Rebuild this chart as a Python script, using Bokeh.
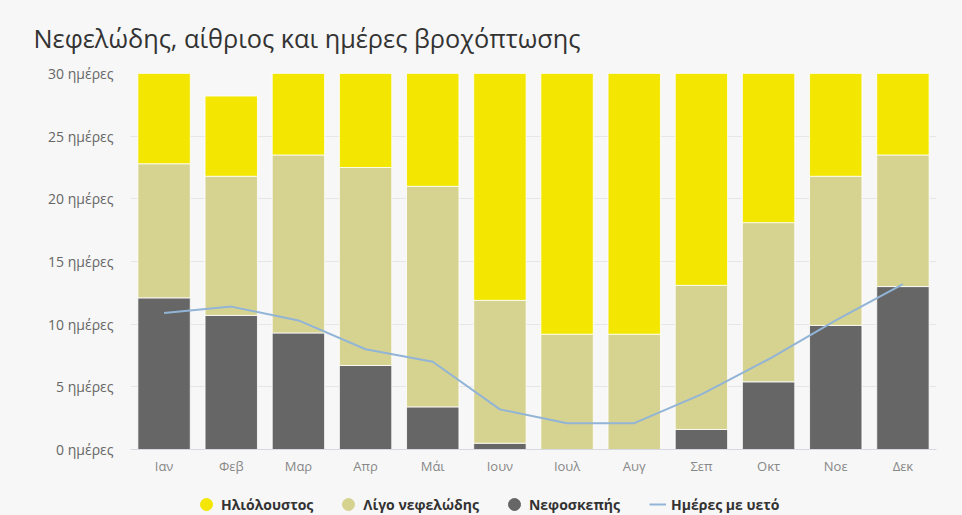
from bokeh.plotting import figure
from bokeh.layouts import column
from bokeh.models import (ColumnDataSource, FactorRange, Range1d, FixedTicker,
                          Legend, LegendItem)
from bokeh.embed import file_html
from bokeh.resources import INLINE

months = ["Ιαν", "Φεβ", "Μαρ", "Απρ", "Μάι", "Ιουν", "Ιουλ", "Αυγ", "Σεπ", "Οκτ", "Νοε", "Δεκ"]
overcast = [12.1, 10.7, 9.3, 6.7, 3.4, 0.5, 0.0, 0.0, 1.6, 5.4, 9.9, 13.0]
partly = [10.7, 11.1, 14.2, 15.8, 17.6, 11.4, 9.2, 9.2, 11.5, 12.7, 11.9, 10.5]
sunny = [8.2, 6.4, 7.5, 7.5, 9.9, 18.1, 21.8, 21.8, 16.9, 12.9, 8.2, 7.5]
rain_days = [10.9, 11.4, 10.3, 8.0, 7.0, 3.2, 2.1, 2.1, 4.4, 7.2, 10.3, 13.2]

y_ticks = [0, 5, 10, 15, 20, 25, 30]
y_tick_labels = ["0 ημέρες", "5 ημέρες", "10 ημέρες", "15 ημέρες", "20 ημέρες", "25 ημέρες", "30 ημέρες"]

series_names = ["Ηλιόλουστος", "Λίγο νεφελώδης", "Νεφοσκεπής", "Ημέρες με υετό"]
title_text = "Νεφελώδης, αίθριος και ημέρες βροχόπτωσης"

C_SUN = "#f3e600"
C_PART = "#d6d28f"
C_OVER = "#666666"
C_RAIN = "#92b4d6"
BG = "#f7f7f7"
FONT = "Open Sans"

source = ColumnDataSource(dict(month=months, overcast=overcast, partly=partly,
                               sunny=sunny, rain=rain_days))

p = figure(x_range=FactorRange(*months, range_padding=0), y_range=Range1d(0, 30),
           width=962, height=482, output_backend="svg", toolbar_location=None,
           min_border_left=130, min_border_right=26, min_border_top=73,
           min_border_bottom=33, background_fill_color=BG, border_fill_color=BG,
           outline_line_color=None)

p.vbar_stack(["overcast", "partly", "sunny"], x="month", width=0.78, source=source,
             color=[C_OVER, C_PART, C_SUN], line_color="white", line_width=0.8)
p.line(x="month", y="rain", source=source, line_color=C_RAIN, line_width=2)

# title
p.title.text = title_text
p.title.text_font = FONT
p.title.text_font_size = "25.3px"
p.title.text_font_style = "normal"
p.title.text_color = "#333333"
p.title.align = "left"
p.title.offset = -97
p.title.standoff = 37

# axes
p.yaxis.ticker = FixedTicker(ticks=y_ticks)
p.yaxis.major_label_overrides = {t: l for t, l in zip(y_ticks, y_tick_labels)}
p.yaxis.axis_line_color = None
p.yaxis.major_tick_line_color = None
p.yaxis.minor_tick_line_color = None
p.yaxis.major_tick_out = 0
p.yaxis.major_tick_in = 0
p.yaxis.major_label_text_font = FONT
p.yaxis.major_label_text_font_size = "14px"
p.yaxis.major_label_text_color = "#666666"
p.yaxis.major_label_standoff = 17

p.xaxis.axis_line_color = "#d8d8e0"
p.xaxis.major_tick_line_color = None
p.xaxis.minor_tick_line_color = None
p.xaxis.major_tick_out = 0
p.xaxis.major_tick_in = 0
p.xaxis.major_label_text_font = FONT
p.xaxis.major_label_text_font_size = "13px"
p.xaxis.major_label_text_color = "#888888"
p.xaxis.major_label_standoff = 7

p.xgrid.grid_line_color = None
p.ygrid.grid_line_color = "#e6e6e6"

# legend strip (legend proxies use the real data, kept out of this strip's view)
lg = figure(width=962, height=33, output_backend="svg", toolbar_location=None,
            x_range=FactorRange(*months, range_padding=0), y_range=Range1d(-2, -1),
            min_border=0, background_fill_color=BG, border_fill_color=BG,
            outline_line_color=None)
lg.axis.visible = False
lg.grid.visible = False
r_sun = lg.scatter(x="month", y="sunny", source=source, marker="circle", size=12, color=C_SUN)
r_part = lg.scatter(x="month", y="partly", source=source, marker="circle", size=12, color=C_PART)
r_over = lg.scatter(x="month", y="rain", source=source, marker="circle", size=12, color=C_OVER)
r_rain = lg.line(x="month", y="rain", source=source, line_color=C_RAIN, line_width=2)

common = dict(orientation="horizontal", background_fill_alpha=0, border_line_color=None,
              label_text_font=FONT, label_text_font_size="14px",
              label_text_font_style="bold", label_text_color="#333333",
              padding=0, margin=0)
legend1 = Legend(items=[LegendItem(label=series_names[0], renderers=[r_sun]),
                        LegendItem(label=series_names[1], renderers=[r_part]),
                        LegendItem(label=series_names[2], renderers=[r_over])],
                 location=(61, -4), glyph_width=30, glyph_height=30,
                 label_standoff=0, spacing=20, **common)
legend2 = Legend(items=[LegendItem(label=series_names[3], renderers=[r_rain])],
                 location=(519, 1), glyph_width=17, glyph_height=20,
                 label_standoff=5, **common)
lg.add_layout(legend1, "center")
lg.add_layout(legend2, "center")

open("out.html", "w").write(file_html(column(p, lg, spacing=0,
                                             styles={"background-color": BG}), INLINE))
